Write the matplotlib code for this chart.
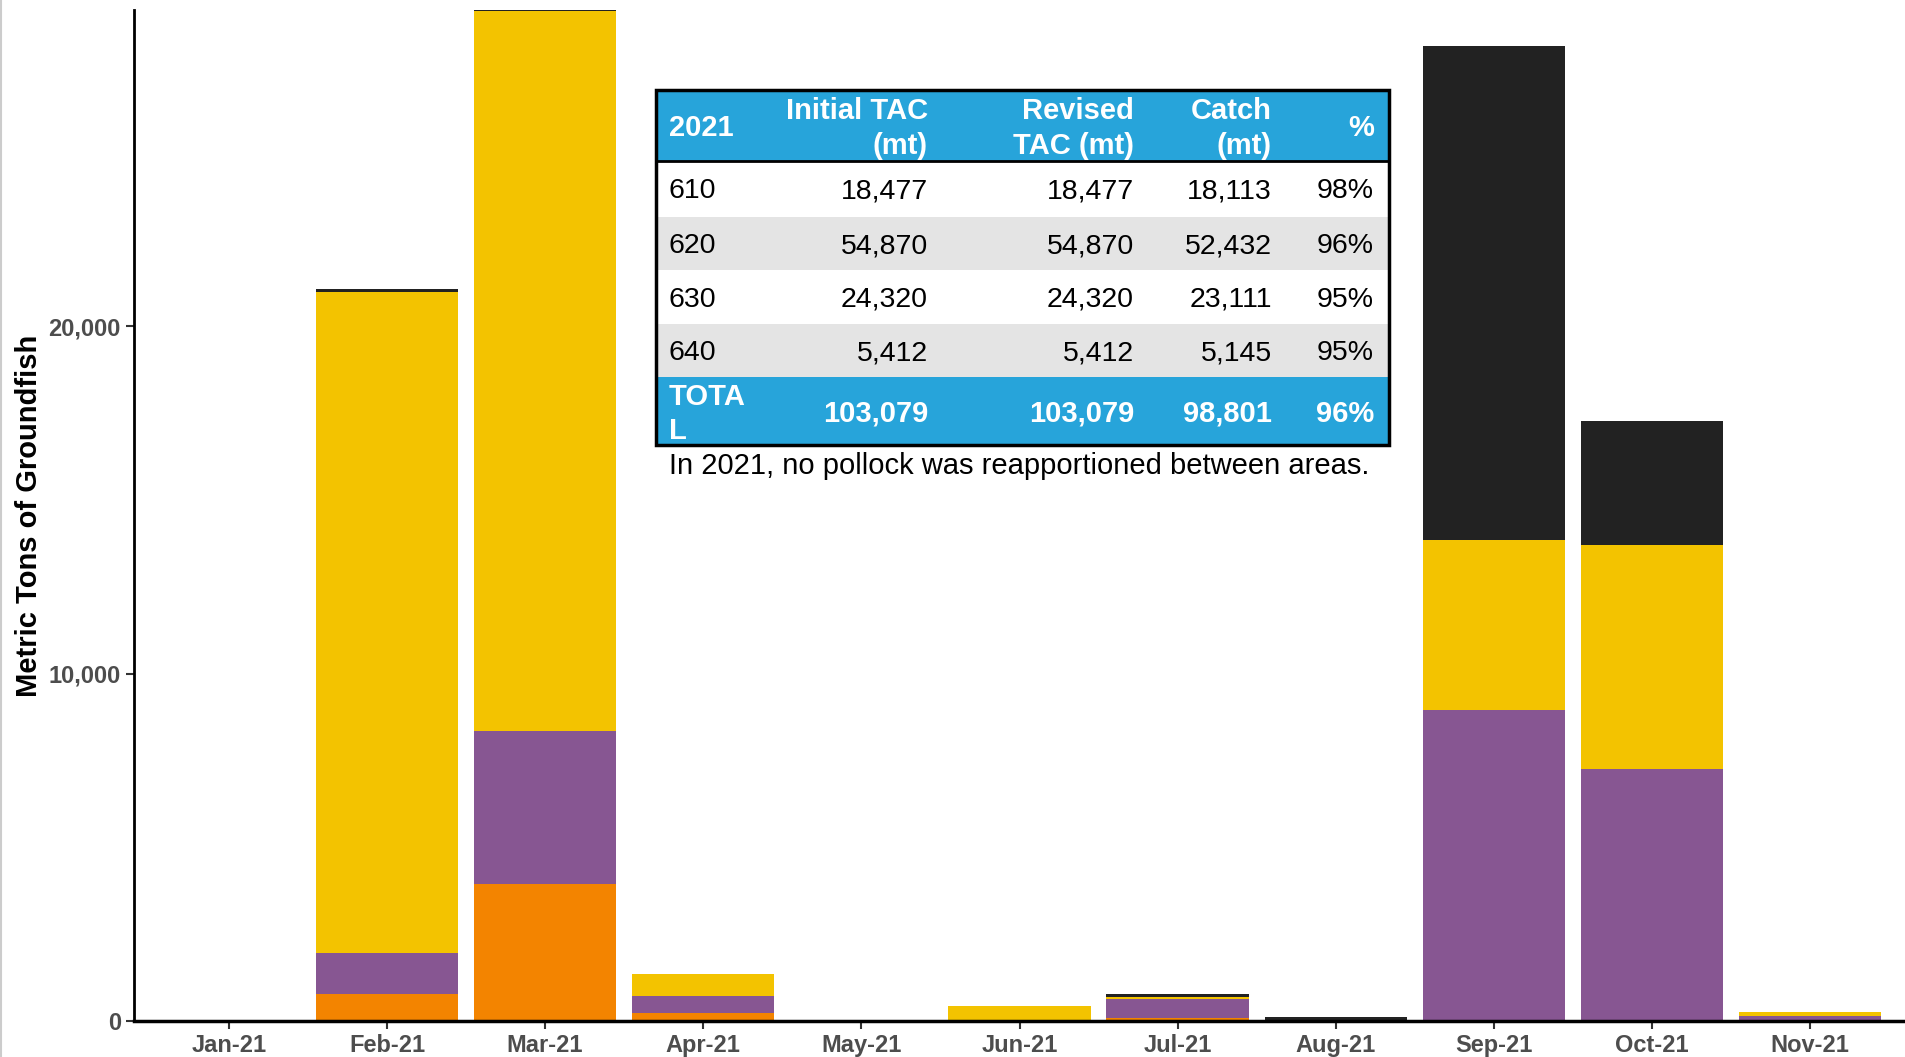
import matplotlib.pyplot as plt
import matplotlib.ticker as mticker
from matplotlib.patches import Rectangle
from matplotlib.lines import Line2D
import numpy as np

plt.rcParams['font.family'] = ['Liberation Sans', 'DejaVu Sans']

months = ['Jan-21', 'Feb-21', 'Mar-21', 'Apr-21', 'May-21', 'Jun-21',
          'Jul-21', 'Aug-21', 'Sep-21', 'Oct-21', 'Nov-21']
# catch by area (mt), stacked bottom to top
area_640 = [0, 770, 3950, 240, 0, 0, 85, 0, 0, 0, 0]
area_630 = [0, 1180, 4400, 470, 0, 0, 547, 0, 8950, 7250, 154]
area_620 = [0, 19020, 20720, 634, 0, 440, 67, 0, 4900, 6440, 115]
area_610 = [0, 110, 30, 0, 0, 0, 67, 115, 14200, 3570, 0]

series = [area_640, area_630, area_620, area_610]
colors = ['#F38400', '#875692', '#F3C300', '#222222']

# table contents
tbl_header = ['2021', 'Initial TAC\n(mt)', 'Revised\nTAC (mt)', 'Catch\n(mt)', '%']
tbl_rows = [
    ['610', '18,477', '18,477', '18,113', '98%'],
    ['620', '54,870', '54,870', '52,432', '96%'],
    ['630', '24,320', '24,320', '23,111', '95%'],
    ['640', '5,412', '5,412', '5,145', '95%'],
]
tbl_total = ['TOTA\nL', '103,079', '103,079', '98,801', '96%']
note = 'In 2021, no pollock was reapportioned between areas.'

W, H = 1905, 1057
fig = plt.figure(figsize=(W / 100, H / 100), dpi=100)
ax = fig.add_axes([134 / W, 1 - 1021 / H, 1 - 134 / W, (1021 - 10) / H])

x = np.arange(len(months))
bottom = np.zeros(len(months))
for vals, c in zip(series, colors):
    ax.bar(x, vals, bottom=bottom, width=0.9, color=c, edgecolor='none')
    bottom += np.array(vals)

ax.set_xlim(-0.6, len(months) - 0.4)
ax.set_ylim(0, bottom.max())
ax.set_xticks(x)
ax.set_xticklabels(months)
ax.set_yticks([0, 10000, 20000])
ax.yaxis.set_major_formatter(mticker.FuncFormatter(lambda v, p: f'{int(v):,}'))
ax.tick_params(axis='both', labelsize=17, colors='#333333', labelcolor='#4D4D4D',
               length=6, width=1.5)
for lab in ax.get_xticklabels() + ax.get_yticklabels():
    lab.set_fontweight('bold')
ax.set_ylabel('Metric Tons of Groundfish', fontsize=21, fontweight='bold', labelpad=4)
for s in ['top', 'right']:
    ax.spines[s].set_visible(False)
ax.spines['left'].set_linewidth(2)
ax.spines['bottom'].set_linewidth(2.5)

fig.add_artist(Line2D([0.5 / W, 0.5 / W], [0, 1], color='#cccccc', lw=1.5))

# table
tx0, ty0, tw, th = 656, 90, 733, 355
tax = fig.add_axes([tx0 / W, 1 - (ty0 + th) / H, tw / W, th / H])
tax.set_xlim(0, tw)
tax.set_ylim(th, 0)
tax.axis('off')

row_h = [70.5, 56, 53.5, 53.5, 53.5, 68]
col_x = [13, 272, 478, 616, 718]
blue = '#27A4DA'
row_bg = [blue, 'white', '#E4E4E4', 'white', '#E4E4E4', blue]
all_rows = [tbl_header] + tbl_rows + [tbl_total]
y = 0
for i, (row, hgt) in enumerate(zip(all_rows, row_h)):
    tax.add_patch(Rectangle((0, y), tw, hgt, facecolor=row_bg[i], edgecolor='none'))
    head = i == 0 or i == len(all_rows) - 1
    for j, txt in enumerate(row):
        tax.text(col_x[j], y + hgt / 2 + 3, txt, ha='left' if j == 0 else 'right',
                 va='center', fontsize=21 if head else 20.5, linespacing=1.3,
                 color='white' if head else 'black',
                 fontweight='bold' if head else 'normal')
    y += hgt
tax.add_patch(Rectangle((0, 0), tw, th, facecolor='none', edgecolor='black',
                        lw=2.5, clip_on=False))
tax.plot([0, tw], [row_h[0], row_h[0]], color='black', lw=2, clip_on=False)

fig.text(669 / W, 1 - 466 / H, note, fontsize=21, ha='left', va='center')

fig.savefig('out.png', dpi=100)
